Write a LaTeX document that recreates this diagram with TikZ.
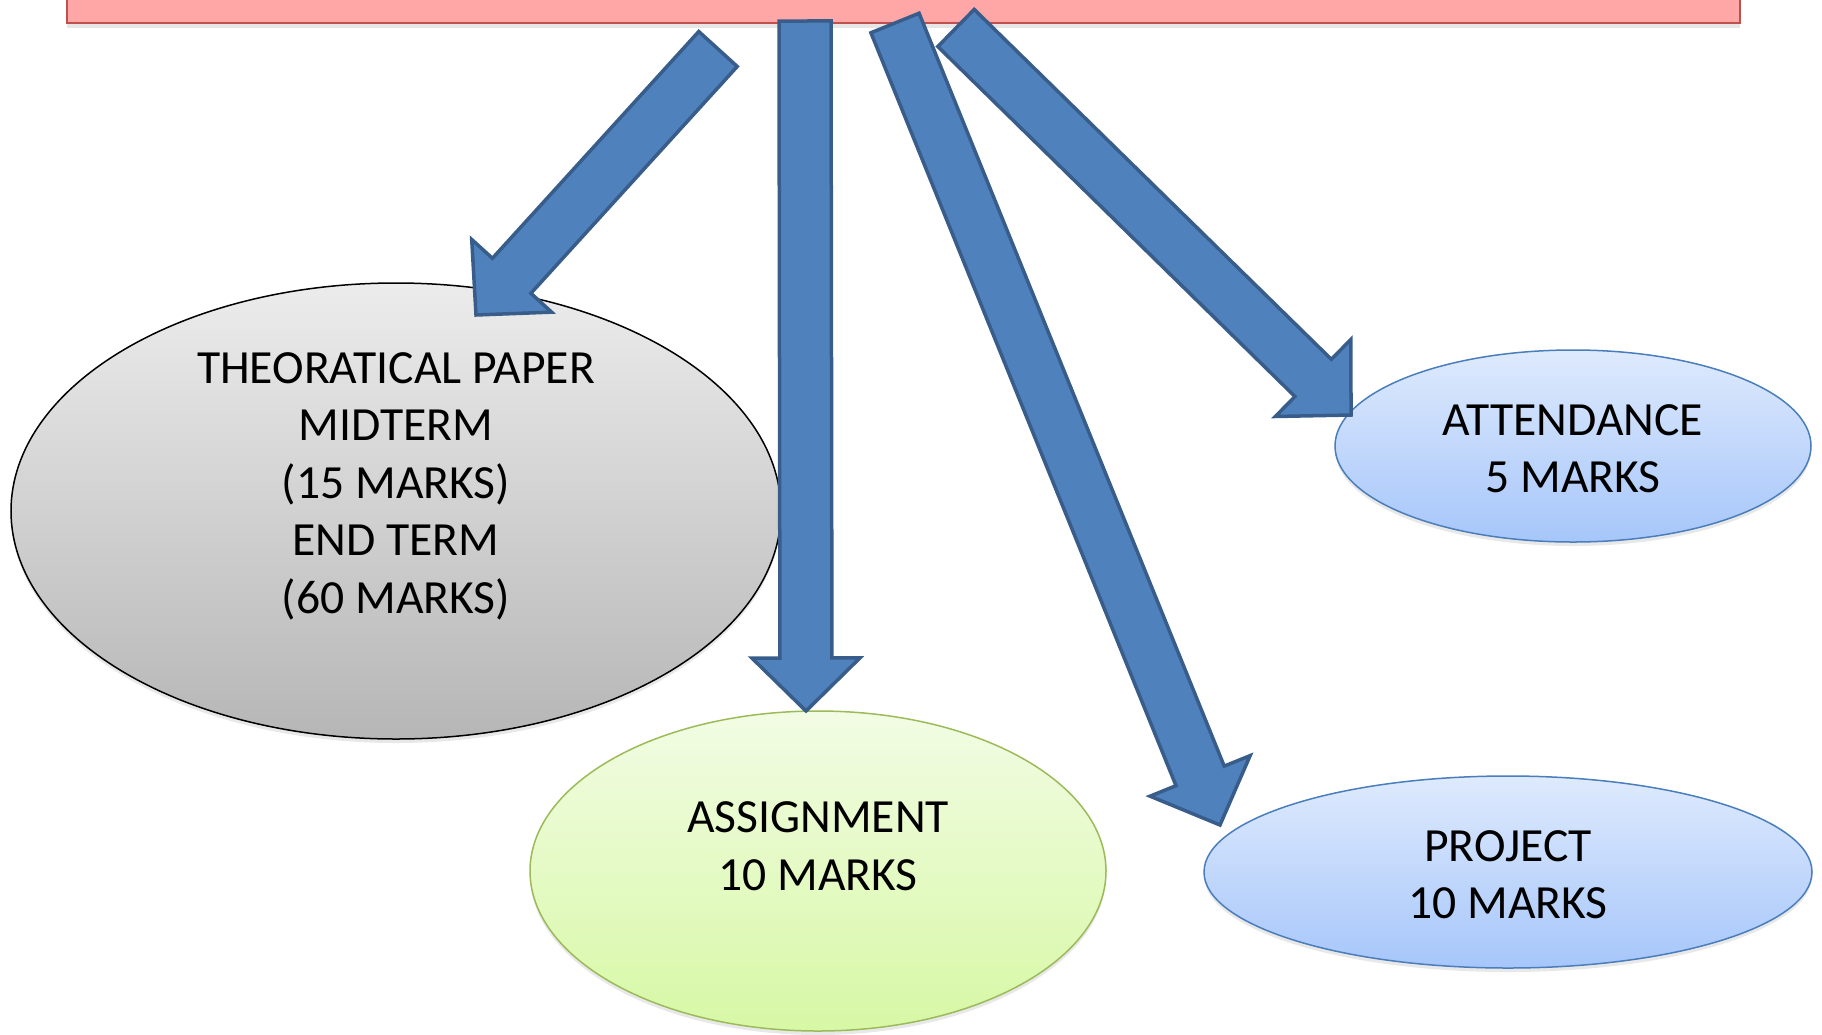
\documentclass[tikz,border=0pt]{standalone}
\usepackage{fontspec}
\setmainfont{Carlito}
\usetikzlibrary{calc}
\usetikzlibrary{shapes.geometric}
\usetikzlibrary{shadows}
\definecolor{bar-pink}{RGB}{255, 166, 166}
\definecolor{bar-red}{RGB}{192, 80, 77}
\definecolor{arrow-blue}{RGB}{79, 129, 189}
\definecolor{arrow-edge}{RGB}{56, 93, 138}
\definecolor{blue-top}{RGB}{222, 234, 253}
\definecolor{blue-bottom}{RGB}{166, 198, 250}
\definecolor{blue-edge}{RGB}{74, 126, 187}
\definecolor{green-top}{RGB}{242, 252, 228}
\definecolor{green-bottom}{RGB}{215, 248, 165}
\definecolor{green-edge}{RGB}{155, 187, 89}
\definecolor{gray-top}{RGB}{236, 236, 236}
\definecolor{gray-bottom}{RGB}{182, 182, 182}

\tikzset{
  oval/.style={ellipse, inner sep=0pt, line width=1.5pt,
    drop shadow={shadow xshift=0pt, shadow yshift=-4pt, opacity=0.18}},
  marks/.style={align=center, inner sep=0pt, font=\fontsize{47.6}{57.5}\selectfont},
  blockarrow/.style={fill=arrow-blue, draw=arrow-edge, line width=3.5pt, line join=miter},
}

% block arrow from tail #1 to tip #2
\newcommand{\bigarrow}[2]{%
  \coordinate (#1-base) at ($(#2)!53pt!(#1)$);
  \draw[blockarrow] ($(#1)!26pt!90:(#2)$) -- ($(#1-base)!26pt!90:(#2)$)
    -- ($(#1-base)!54pt!90:(#2)$) -- (#2) -- ($(#1-base)!54pt!-90:(#2)$)
    -- ($(#1-base)!26pt!-90:(#2)$) -- ($(#1)!26pt!-90:(#2)$) -- cycle;
}

\begin{document}
\begin{tikzpicture}[x=1pt, y=-1pt]
  \useasboundingbox (0,0) rectangle (1822,1034);
  \clip (0,0) rectangle (1822,1034);

  \node[draw=bar-red, fill=bar-pink, line width=2pt, inner sep=0pt,
    minimum width=1673pt, minimum height=70pt,
    drop shadow={shadow xshift=0pt, shadow yshift=-5pt, opacity=0.2}] (total) at (903.5,-12) {};

  \node[oval, draw=black, top color=gray-top, bottom color=gray-bottom,
    minimum width=770pt, minimum height=456pt] (theory) at (396,511) {};
  \node[oval, draw=green-edge, top color=green-top, bottom color=green-bottom,
    minimum width=576pt, minimum height=320pt] (assign) at (818,871) {};
  \node[oval, draw=blue-edge, top color=blue-top, bottom color=blue-bottom,
    minimum width=476pt, minimum height=192pt] (attend) at (1573,446) {};
  \node[oval, draw=blue-edge, top color=blue-top, bottom color=blue-bottom,
    minimum width=608pt, minimum height=192pt] (project) at (1508,872) {};

  \node[marks] (theorytext) at ([yshift=25pt]theory.center)
    {THEORATICAL PAPER\\MIDTERM\\(15 MARKS)\\END TERM\\(60 MARKS)};
  \node[marks] (assigntext) at ([yshift=25pt]assign.center) {ASSIGNMENT\\10 MARKS};
  \node[marks] (attendtext) at ([yshift=-2.5pt]attend.center) {ATTENDANCE\\5 MARKS};
  \node[marks] (projecttext) at ([yshift=-2.5pt]project.center) {PROJECT\\10 MARKS};

  % arrows from the bar
  \coordinate (a1) at (718,49);
  \coordinate (b1) at (476,315);
  \coordinate (a2) at (805,21);
  \coordinate (b2) at (806,711);
  \coordinate (a3) at (895,23);
  \coordinate (b3) at (1220,825);
  \coordinate (a4) at (956,28);
  \coordinate (b4) at (1351,415);
  \bigarrow{a1}{b1}
  \bigarrow{a2}{b2}
  \bigarrow{a3}{b3}
  \bigarrow{a4}{b4}
\end{tikzpicture}
\end{document}
